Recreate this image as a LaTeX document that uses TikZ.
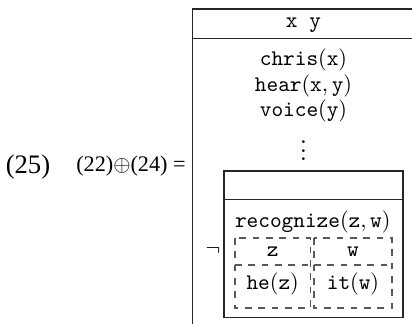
\documentclass[tikz,border=0pt]{standalone}
\usepackage{fontspec}
\setmainfont{Liberation Serif}
\begin{document}
\begin{tikzpicture}[x=0.45pt,y=-0.45pt,
  lbl/.style={inner sep=0pt},
  tt/.style={inner sep=0pt, anchor=base, font=\ttfamily},
  solidbox/.style={draw=black!85, line width=0.5pt},
  dashbox/.style={draw=black!65, dashed, line width=0.5pt}]
\useasboundingbox (0,0) rectangle (412,324);
\clip (0,0) rectangle (412,324);
% outer DRS box
\draw[solidbox] (192.7,9) rectangle (414.3,325);
\draw[solidbox] (192.7,38.5) -- (414.3,38.5);
\node[tt] (hdr) at (303.5,27.6) {x y};
\node[tt] (c1) at (303.5,66) {chris$(\texttt{x})$};
\node[tt] (c2) at (303.5,91.5) {hear$(\texttt{x},\texttt{y})$};
\node[tt] (c3) at (303.5,116.5) {voice$(\texttt{y})$};
\node[tt] (dots) at (303.5,161) {$\vdots$};
% negated inner box
\node[tt] (neg) at (213,256) {$\neg$};
\draw[solidbox] (224,171) rectangle (403,317.3);
\draw[solidbox] (224,199.3) -- (403,199.3);
\node[tt] (rec) at (312.8,228) {recognize$(\texttt{z},\texttt{w})$};
% dashed sub-boxes
\draw[dashbox] (235,238) rectangle (310.5,308);
\draw[dashbox] (235,265) -- (310.5,265);
\draw[dashbox] (314,238) rectangle (392,308);
\draw[dashbox] (314,265) -- (392,265);
\node[tt] (z) at (272.7,257) {z};
\node[tt] (w) at (353,257) {w};
\node[tt] (hez) at (272.7,290) {he$(\texttt{z})$};
\node[tt] (itw) at (353,290) {it$(\texttt{w})$};
% left labels
\node[lbl, font=\fontsize{12}{14}\selectfont] (num) at (28,167.5) {(25)};
\node[lbl, font=\fontsize{10}{12}\selectfont] (eq) at (131,166) {(22)$\oplus$(24) =};
\end{tikzpicture}
\end{document}
